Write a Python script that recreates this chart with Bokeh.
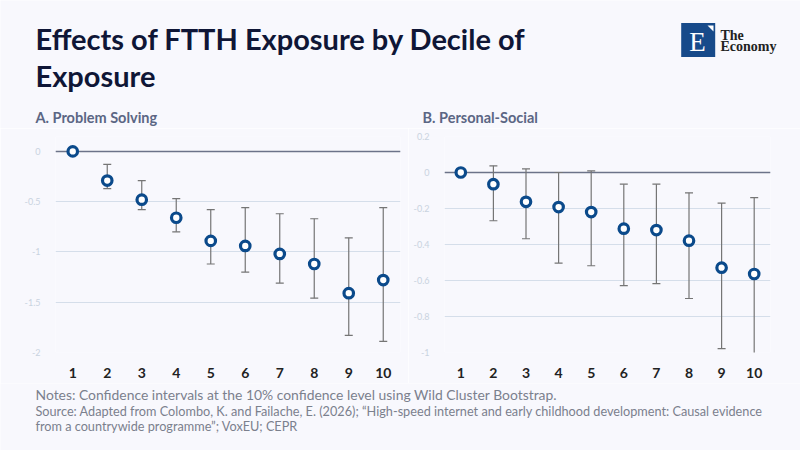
from bokeh.plotting import figure
from bokeh.layouts import column, row
from bokeh.models import Range1d, FixedTicker, ColumnDataSource
from bokeh.core.properties import value
from bokeh.embed import file_html
from bokeh.resources import INLINE

# ---------------- data ----------------
deciles = [1, 2, 3, 4, 5, 6, 7, 8, 9, 10]

est_a = [0.0, -0.29, -0.48, -0.66, -0.89, -0.94, -1.02, -1.12, -1.41, -1.28]
low_a = [None, -0.37, -0.58, -0.80, -1.12, -1.20, -1.31, -1.46, -1.83, -1.89]
high_a = [None, -0.13, -0.29, -0.47, -0.58, -0.56, -0.62, -0.67, -0.86, -0.56]

est_b = [0.0, -0.065, -0.163, -0.192, -0.22, -0.312, -0.32, -0.379, -0.529, -0.564]
low_b = [None, -0.268, -0.368, -0.503, -0.518, -0.628, -0.617, -0.70, -0.978, -1.02]
high_b = [None, 0.037, 0.02, 0.0, 0.009, -0.065, -0.065, -0.113, -0.17, -0.14]

yticks_a = [-2, -1.5, -1, -0.5, 0]
ytick_labels_a = ["-2", "-1.5", "-1", "-0.5", "0"]
yticks_b = [-1, -0.8, -0.6, -0.4, -0.2, 0, 0.2]
ytick_labels_b = ["-1", "-0.8", "-0.6", "-0.4", "-0.2", "0", "0.2"]

title_lines = ["Effects of FTTH Exposure by Decile of", "Exposure"]
subtitle_a = "A. Problem Solving"
subtitle_b = "B. Personal-Social"
notes = "Notes: Confidence intervals at the 10% confidence level using Wild Cluster Bootstrap."
source_lines = [
    "Source: Adapted from Colombo, K. and Failache, E. (2026); \u201cHigh-speed internet and early childhood development: Causal evidence",
    "from a countrywide programme\u201d; VoxEU; CEPR",
]

# ---------------- style ----------------
BG = "#f8f8fd"
NAVY = "#0f1636"
SUB = "#5b6684"
NOTE = "#7b808d"
MARK = "#0b4a8b"
WHISK = "#757575"
GRID = "#d5deea"
ZERO = "#6c7389"
FONT = "Lato"


def blank(width, height):
    p = figure(width=width, height=height, x_range=Range1d(0, width), y_range=Range1d(height, 0),
               x_axis_type=None, y_axis_type=None, toolbar_location=None, title=None,
               output_backend="svg", min_border=0)
    p.grid.visible = False
    p.outline_line_color = None
    p.background_fill_color = BG
    p.border_fill_color = BG
    return p


# ---------------- header (page y 0..128) ----------------
header = blank(800, 128)
header.text(x=[35, 35], y=[37.7, 74.7], text=title_lines, text_font=value(FONT),
            text_font_style="bold", text_font_size="29px", text_color=NAVY,
            text_baseline="alphabetic", text_align="left")
header.text(x=[35, 422], y=[117.4, 117.4], text=[subtitle_a, subtitle_b], text_font=value(FONT),
            text_font_style="bold", text_font_size="14.5px", text_color=SUB,
            text_baseline="alphabetic", text_align="left")
# logo
header.rect(x=[697.7], y=[39.5], width=34, height=34, fill_color="#174a8a", line_color=None)
header.patch(x=[707, 713, 713], y=[25, 25, 31], fill_color="white", line_color=None)
header.text(x=[697], y=[41], text=["E"], text_font=value("Liberation Serif"),
            text_font_size="27px", text_color="white", text_align="center",
            text_baseline="alphabetic")
header.text(x=[720, 720], y=[34.5, 45.5], text=["The", "Economy"], text_font=value("Liberation Serif"),
            text_font_style="bold", text_font_size="14px", text_color="#222222",
            text_align="left", text_baseline="alphabetic")


# ---------------- panels (page y 128..383) ----------------
def panel(width, est, low, high, yr, ticks, labels, bl, br, bt, bb):
    p = figure(width=width, height=255, x_range=Range1d(0.5, 10.5), y_range=Range1d(*yr),
               toolbar_location=None, output_backend="svg", title=None,
               min_border_left=bl, min_border_right=br, min_border_top=bt, min_border_bottom=bb)
    p.background_fill_color = BG
    p.border_fill_color = BG
    p.outline_line_color = None
    p.xgrid.grid_line_color = None
    p.ygrid.grid_line_color = GRID
    p.ygrid.grid_line_width = 1
    p.yaxis.ticker = FixedTicker(ticks=ticks)
    p.yaxis.major_label_overrides = {t: l for t, l in zip(ticks, labels)}
    p.xaxis.ticker = FixedTicker(ticks=deciles)
    for ax in (p.xaxis, p.yaxis):
        ax.axis_line_color = None
        ax.major_tick_line_color = None
        ax.minor_tick_line_color = None
    p.yaxis.major_label_text_font_size = "9px"
    p.yaxis.major_label_text_color = "#c9d3e0"
    p.yaxis.major_label_text_font = FONT
    p.yaxis.major_label_standoff = 9
    p.xaxis.major_label_text_font_size = "14px"
    p.xaxis.major_label_text_font_style = "bold"
    p.xaxis.major_label_text_color = "#222222"
    p.xaxis.major_label_text_font = FONT
    p.xaxis.major_label_standoff = 9

    p.hspan(y=[0], line_color=ZERO, line_width=1.5)

    xs = [d for d, l in zip(deciles, low) if l is not None]
    lo = [l for l in low if l is not None]
    hi = [h for h in high if h is not None]
    ws = ColumnDataSource(dict(x=xs, lo=lo, hi=hi))
    p.segment(x0="x", y0="lo", x1="x", y1="hi", source=ws, line_color=WHISK, line_width=1.2)
    p.scatter(x="x", y="lo", source=ws, marker="dash", size=8, line_color=WHISK, line_width=1.2)
    p.scatter(x="x", y="hi", source=ws, marker="dash", size=8, line_color=WHISK, line_width=1.2)

    p.scatter(x=deciles, y=est, marker="circle", size=9.5, fill_color="white",
              line_color=MARK, line_width=3.2)
    return p


left = panel(408, est_a, low_a, high_a, (-2, 0.148), yticks_a, ytick_labels_a, 55, 8, 7, 30)
right = panel(392, est_b, low_b, high_b, (-1, 0.2), yticks_b, ytick_labels_b, 36, 30, 8, 31)

# ---------------- footer (page y 383..450) ----------------
footer = blank(800, 67)
footer.text(x=[35], y=[10.6], text=[notes], text_font=value(FONT), text_font_size="13.9px",
            text_color=NOTE, text_baseline="alphabetic", text_align="left")
footer.text(x=[35, 35], y=[27.9, 42.9], text=source_lines, text_font=value(FONT),
            text_font_size="12.7px", text_color=NOTE, text_baseline="alphabetic", text_align="left")

layout = column(header, row(left, right), footer)
layout.spacing = 0

open("out.html", "w").write(file_html(layout, INLINE))
